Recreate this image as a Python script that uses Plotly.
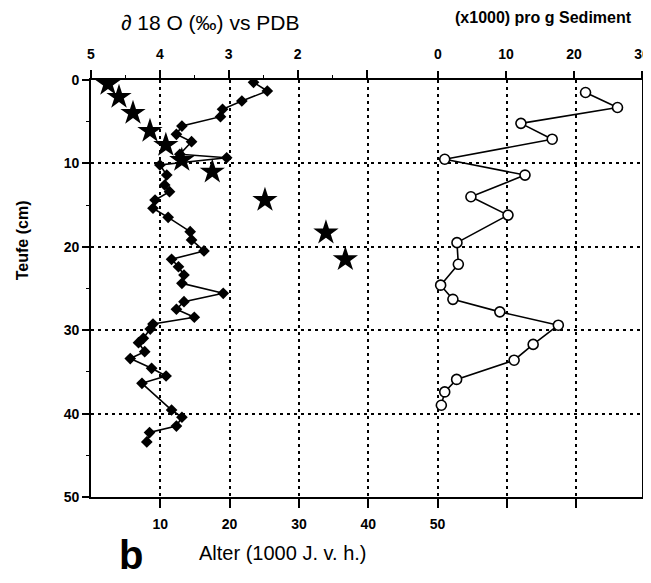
import plotly.graph_objects as go

# delta 18O (diamonds) vs depth
d18o_depth = [0.28, 1.32, 2.52, 3.51, 4.40, 5.52, 6.51, 7.40, 8.91, 9.32,
              10.19, 11.39, 12.59, 13.39, 14.39, 15.38, 16.47, 18.19, 19.18, 20.5,
              21.5, 22.39, 23.38, 24.38, 25.58, 26.58, 27.49, 28.45, 29.26, 29.86,
              30.97, 31.5, 32.58, 33.4, 34.57, 35.49, 36.37, 39.57, 40.44, 41.49,
              42.27, 43.4]
d18o_value = [2.64, 2.44, 2.81, 3.09, 3.12, 3.68, 3.76, 3.54, 3.71, 3.03,
              4.00, 3.90, 3.93, 3.86, 4.07, 4.10, 3.88, 3.56, 3.54, 3.36,
              3.83, 3.73, 3.65, 3.68, 3.08, 3.65, 3.76, 3.50, 4.10, 4.14,
              4.24, 4.31, 4.22, 4.43, 4.12, 3.91, 4.26, 3.83, 3.68, 3.76,
              4.15, 4.19]

# age (stars) vs depth
age_depth = [0.48, 2.04, 3.96, 6.12, 7.8, 9.6, 11.0, 14.4, 18.3, 21.5]
age_value = [2.45, 4.04, 6.06, 8.51, 10.8, 13.1, 17.5, 25.1, 33.9, 36.7]

# counts per g sediment (x1000, open circles) vs depth
sed_depth = [1.5, 3.3, 5.2, 7.1, 9.5, 11.4, 14.0, 16.2, 19.5, 22.1,
             24.6, 26.3, 27.8, 29.4, 31.7, 33.6, 35.9, 37.4, 39.0]
sed_value = [21.7, 26.4, 12.2, 16.8, 1.0, 12.8, 4.85, 10.3, 2.8, 3.0,
             0.4, 2.2, 9.1, 17.7, 14.0, 11.2, 2.75, 1.0, 0.5]

depth_ticks = [0, 10, 20, 30, 40, 50]
age_ticks = [10, 20, 30, 40, 50, 60, 70]
age_labels = ["10", "20", "30", "40", "50", "", ""]
d18o_ticks = [5, 4, 3, 2, 1]
d18o_labels = ["5", "4", "3", "2", ""]
sed_ticks = [0, 10, 20, 30]

FONT = "Liberation Sans"
tickfont = dict(family=FONT, size=14, color="black", weight="bold")
grid_dash = "2.5px,4.5px"

fig = go.Figure()

fig.add_trace(go.Scatter(
    x=d18o_value, y=d18o_depth, xaxis="x2", yaxis="y",
    mode="lines+markers",
    line=dict(color="black", width=1.6),
    marker=dict(symbol="diamond", size=9, color="black"),
    showlegend=False, hoverinfo="skip"))

fig.add_trace(go.Scatter(
    x=sed_value, y=sed_depth, xaxis="x3", yaxis="y",
    mode="lines+markers",
    line=dict(color="black", width=1.6),
    marker=dict(symbol="circle", size=10, color="white",
                line=dict(color="black", width=1.6)),
    showlegend=False, hoverinfo="skip"))

fig.add_trace(go.Scatter(
    x=age_value, y=age_depth, xaxis="x", yaxis="y",
    mode="markers",
    marker=dict(symbol="star", size=19, color="black",
                line=dict(color="black", width=0)),
    showlegend=False, hoverinfo="skip"))

# the page body has an 8px margin, so the figure is 8px smaller on each axis
fig.update_layout(
    width=643, height=575,
    margin=dict(l=83, r=9, t=72, b=86),
    paper_bgcolor="white", plot_bgcolor="white",
    font=dict(family=FONT, color="black"),
    showlegend=False,
    xaxis=dict(
        range=[0, 79.5], tickvals=age_ticks, ticktext=age_labels,
        ticks="outside", ticklen=9, tickwidth=1.5, tickcolor="black",
        ticklabelstandoff=4, automargin=False,
        showline=True, linecolor="black", linewidth=1.8,
        showgrid=True, gridcolor="black", gridwidth=2, griddash=grid_dash,
        zeroline=False, tickfont=tickfont, side="bottom", anchor="y"),
    xaxis2=dict(
        range=[5, -3], tickvals=d18o_ticks, ticktext=d18o_labels,
        overlaying="x", side="top", anchor="y",
        ticks="outside", ticklen=8, tickwidth=1.5, tickcolor="black",
        ticklabelstandoff=6, automargin=False,
        minor=dict(tickvals=[4.5, 3.5, 2.5, 1.5], ticks="outside",
                   ticklen=3, tickcolor="black", tickwidth=1),
        showline=True, linecolor="black", linewidth=1.8,
        showgrid=False, zeroline=False, tickfont=tickfont),
    xaxis3=dict(
        range=[-51, 30], tickvals=sed_ticks,
        overlaying="x", side="top", anchor="y",
        ticks="outside", ticklen=8, tickwidth=1.5, tickcolor="black",
        ticklabelstandoff=6, automargin=False,
        showline=False, showgrid=False, zeroline=False, tickfont=tickfont),
    yaxis=dict(
        range=[50, 0], tickvals=depth_ticks,
        ticks="outside", ticklen=7, tickwidth=1.5, tickcolor="black",
        automargin=False,
        minor=dict(tickvals=[5, 15, 25, 35, 45], ticks="outside",
                   ticklen=3, tickcolor="black", tickwidth=1),
        showline=True, linecolor="black", linewidth=1.8, mirror=True,
        showgrid=True, gridcolor="black", gridwidth=2, griddash=grid_dash,
        zeroline=False, tickfont=tickfont),
)

def label(text, x, y, size, bold=False, angle=0):
    fig.add_annotation(text=text, xref="paper", yref="paper", x=x, y=y,
                       xanchor="center", yanchor="middle", showarrow=False,
                       textangle=angle,
                       font=dict(family=FONT, size=size, color="black",
                                 weight="bold" if bold else "normal"))

label("∂ 18 O (‰) vs PDB", 0.216, 1.139, 21)
label("(x1000) pro g Sediment", 0.822, 1.149, 16, bold=True)
label("Teufe (cm)", -0.125, 0.616, 16, bold=True, angle=-90)
label("Alter (1000 J. v. h.)", 0.347, -0.134, 20)
label("b", 0.073, -0.14, 40, bold=True)

fig.write_html("out.html")
